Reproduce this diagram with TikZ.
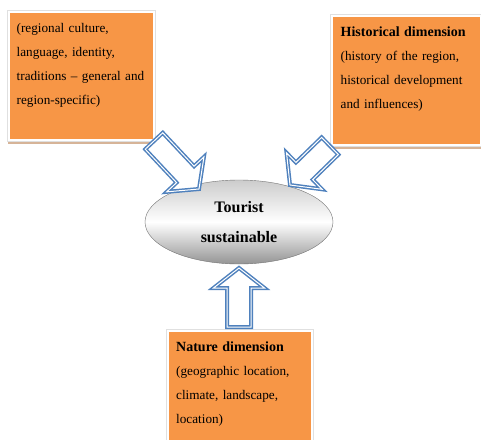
\documentclass[tikz,border=0pt]{standalone}
\usepackage{fontspec}
\setmainfont{Liberation Serif}
\usetikzlibrary{positioning, calc, shapes.geometric}

\definecolor{boxorange}{HTML}{F79646}
\definecolor{arrowblue}{HTML}{4F81BD}
\definecolor{shadowtan}{HTML}{D6B498}

% block arrow: #2 = tail centre, #3 = tip
\newcommand{\blockarrow}[3][]{%
  \coordinate (ba-n) at ($(#3)!20pt!(#2)$);
  \draw[dimarrow, #1] ($(#2)!12pt!90:(#3)$) -- ($(ba-n)!12pt!90:(#3)$)
    -- ($(ba-n)!25.5pt!90:(#3)$) -- (#3)
    -- ($(ba-n)!25.5pt!-90:(#3)$) -- ($(ba-n)!12pt!-90:(#3)$)
    -- ($(#2)!12pt!-90:(#3)$) -- cycle;}

\begin{document}
\begin{tikzpicture}[
    x=1pt, y=1pt,
    dimbox/.style={anchor=north west, inner sep=0pt, fill=boxorange, draw=white, line width=2.6pt,
        preaction={fill=shadowtan, draw=shadowtan, line width=3pt, transform canvas={xshift=1pt, yshift=-3pt}},
        preaction={draw=black!12, line width=3.6pt}},
    dimtext/.style={anchor=base west, align=left, inner sep=0pt, text width=170pt,
        font=\fontsize{13.2}{24}\selectfont},
    hub/.style={ellipse, minimum width=188pt, minimum height=84pt, inner sep=0pt,
        draw=black!55, thin, top color=black!20, bottom color=black!42, middle color=white,
        align=center, font=\bfseries\fontsize{16}{30}\selectfont},
    dimarrow/.style={draw=arrowblue, line width=1.5pt, double=white, double distance=1pt,
        fill=white, line join=miter}
]
    \useasboundingbox (0,0) rectangle (481,-439);
    \clip (0,0) rectangle (481,-439);

    % boxes
    \node[dimbox, minimum width=145pt, minimum height=128pt] (culture) at (7.5,-10.5) {};
    \node[dimtext] (culturetxt) at ($(culture.north west)+(9,-21.5)$)
        {(regional culture,\\language, identity,\\traditions -- general and\\region-specific)};

    \node[dimbox, minimum width=149pt, minimum height=129pt] (history) at (330.5,-14.5) {};
    \node[dimtext] (historytxt) at ($(history.north west)+(10,-21.5)$)
        {\textbf{\fontsize{14}{24}\selectfont Historical dimension}\\(history of the region,\\historical development\\and influences)};

    \node[dimbox, minimum width=144pt, minimum height=130pt] (nature) at (166.5,-329.5) {};
    \node[dimtext] (naturetxt) at ($(nature.north west)+(9.5,-22)$)
        {\textbf{\fontsize{14}{24}\selectfont Nature dimension}\\(geographic location,\\climate, landscape,\\location)};

    % centre
    \node[hub] (tourist) at (239,-222) {Tourist\\sustainable};

    % arrows
    \coordinate (culttail) at (154,-141);
    \coordinate (culttip) at (199,-189);
    \coordinate (histtail) at (330,-146);
    \coordinate (histtip) at (290,-185);
    \coordinate (nattail) at (239,-327);
    \coordinate (nattip) at (239,-268);
    \blockarrow{culttail}{culttip}
    \blockarrow{histtail}{histtip}
    \blockarrow{nattail}{nattip}
\end{tikzpicture}
\end{document}
